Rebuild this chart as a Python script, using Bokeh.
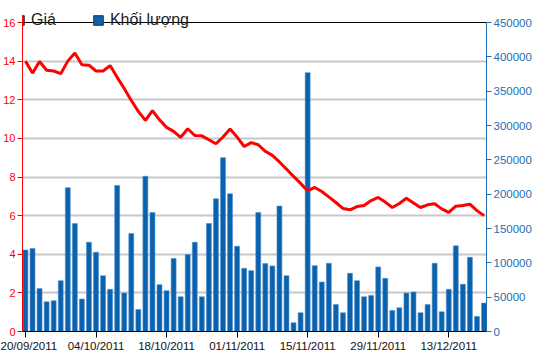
import pandas as pd
from bokeh.plotting import figure
from bokeh.models import (Range1d, LinearAxis, Legend, LegendItem, FixedTicker,
                          ColumnDataSource, BasicTickFormatter, Span)
from bokeh.embed import file_html
from bokeh.resources import INLINE

# trading days 20/09/2011 .. 20/12/2011
dates = [d.strftime("%d/%m/%Y") for d in pd.bdate_range("2011-09-20", "2011-12-20")]

price = [14.0, 13.38, 13.98, 13.53, 13.49, 13.35, 14.0, 14.42, 13.81, 13.79,
         13.49, 13.49, 13.77, 13.16, 12.58, 11.96, 11.4, 10.93, 11.44, 10.96,
         10.57, 10.36, 10.05, 10.5, 10.15, 10.13, 9.93, 9.72, 10.07, 10.48,
         10.07, 9.58, 9.78, 9.67, 9.33, 9.12, 8.78, 8.41, 8.03, 7.67,
         7.28, 7.46, 7.25, 6.97, 6.68, 6.37, 6.3, 6.47, 6.52, 6.78,
         6.94, 6.7, 6.42, 6.63, 6.9, 6.66, 6.42, 6.56, 6.61, 6.35,
         6.17, 6.49, 6.52, 6.59, 6.26, 6.0]

volume = [118800, 120800, 62800, 43300, 44800, 74000, 209400, 157300, 47200, 130000,
          115400, 81300, 61400, 212800, 56000, 142700, 32100, 226000, 173400, 68200,
          59400, 106200, 50600, 112000, 130000, 50600, 157300, 193300, 253200, 200600,
          124200, 92000, 88600, 173400, 98900, 95500, 182600, 81300, 12700, 27300,
          377000, 95900, 72000, 99300, 39400, 27300, 84700, 74000, 50600, 52600,
          94000, 77400, 30700, 34600, 56000, 57500, 27300, 39400, 99300, 28700,
          61400, 124700, 68700, 108000, 21900, 41400]

tick_idx = [0, 10, 20, 30, 40, 50, 60]
tick_labels = ["20/09/2011", "04/10/2011", "18/10/2011", "01/11/2011",
               "15/11/2011", "29/11/2011", "13/12/2011"]
series_names = ["Giá", "Khối lượng"]

PRICE_MAX = 16
VOL_MAX = 450000

RED = "#ff0000"
BLUE = "#0a62ad"
AXBLUE = "#1f6db3"

idx = list(range(len(dates)))
src = ColumnDataSource(dict(x=idx, price=price, volume=volume, date=dates))

# The frame reaches the top of the canvas so the legend strip lies inside it;
# the axes are bounded to their real ranges (0..16 and 0..450000).
FRAME_H = 331
PLOT_H = 309
p = figure(width=542, height=356, output_backend="svg", toolbar_location=None,
           x_range=Range1d(-0.42, 65.35),
           y_range=Range1d(0, PRICE_MAX * FRAME_H / PLOT_H),
           min_border_left=19, min_border_right=56, min_border_top=0, min_border_bottom=25)
p.extra_y_ranges = {"vol": Range1d(0, VOL_MAX * FRAME_H / PLOT_H)}

p.outline_line_color = None
p.background_fill_color = "white"

bars = p.vbar(x="x", top="volume", width=0.7, source=src, y_range_name="vol",
              fill_color=BLUE, line_color="#4f8fd0", line_width=0.6)
line = p.line(x="x", y="price", source=src, line_color=RED, line_width=3)

# top border of the plotting area
p.add_layout(Span(location=PRICE_MAX, dimension="width", line_color="black", line_width=1))

# legend swatches (single bar outside the visible ranges; shown only in the legend)
leg_red = p.vbar(x=[-5], bottom=[-6], top=[-5], width=0.1,
                 fill_color=RED, line_color="#333333")
leg_blue = p.vbar(x=[-5], bottom=[-6], top=[-5], width=0.1,
                  fill_color=BLUE, line_color="#333333")
legend = Legend(items=[LegendItem(label=series_names[0], renderers=[leg_red]),
                       LegendItem(label=series_names[1], renderers=[leg_blue])],
                location=(-9, 301), orientation="horizontal",
                glyph_width=12, glyph_height=12, label_standoff=6, spacing=36,
                padding=0, margin=0, border_line_color=None, background_fill_alpha=0,
                label_text_font="Liberation Sans", label_text_font_size="16px",
                label_text_color="#222222", label_height=20)
p.add_layout(legend, "center")

# x axis
xa = p.xaxis[0]
xa.ticker = FixedTicker(ticks=tick_idx)
xa.major_label_overrides = {i: lab for i, lab in zip(tick_idx, tick_labels)}
xa.axis_line_color = "black"
xa.major_tick_line_color = "black"
xa.major_tick_out = 6
xa.major_tick_in = 0
xa.minor_tick_line_color = None
xa.major_label_text_font = "Liberation Sans"
xa.major_label_text_font_size = "11.5px"
xa.major_label_text_color = "#111111"
xa.major_label_standoff = 2

# left axis
ya = p.yaxis[0]
ya.ticker = FixedTicker(ticks=list(range(0, 17, 2)))
ya.bounds = (0, PRICE_MAX)
ya.axis_line_color = RED
ya.major_tick_line_color = RED
ya.major_tick_out = 5
ya.major_tick_in = 0
ya.minor_tick_line_color = None
ya.major_label_text_color = RED
ya.major_label_text_font = "Liberation Sans"
ya.major_label_text_font_size = "11px"
ya.major_label_standoff = 2

# right axis
ra = LinearAxis(y_range_name="vol", ticker=FixedTicker(ticks=list(range(0, 450001, 50000))),
                formatter=BasicTickFormatter(use_scientific=False), bounds=(0, VOL_MAX))
ra.axis_line_color = AXBLUE
ra.major_tick_line_color = AXBLUE
ra.major_tick_out = 5
ra.major_tick_in = 0
ra.minor_tick_line_color = None
ra.major_label_text_color = AXBLUE
ra.major_label_text_font = "Liberation Sans"
ra.major_label_text_font_size = "11.5px"
ra.major_label_standoff = 2
p.add_layout(ra, "right")

p.xgrid.grid_line_color = None
p.ygrid.ticker = FixedTicker(ticks=list(range(2, 15, 2)))
p.ygrid.grid_line_color = "#c8c8c8"
p.ygrid.grid_line_width = 2

open("out.html", "w").write(file_html(p, INLINE))
